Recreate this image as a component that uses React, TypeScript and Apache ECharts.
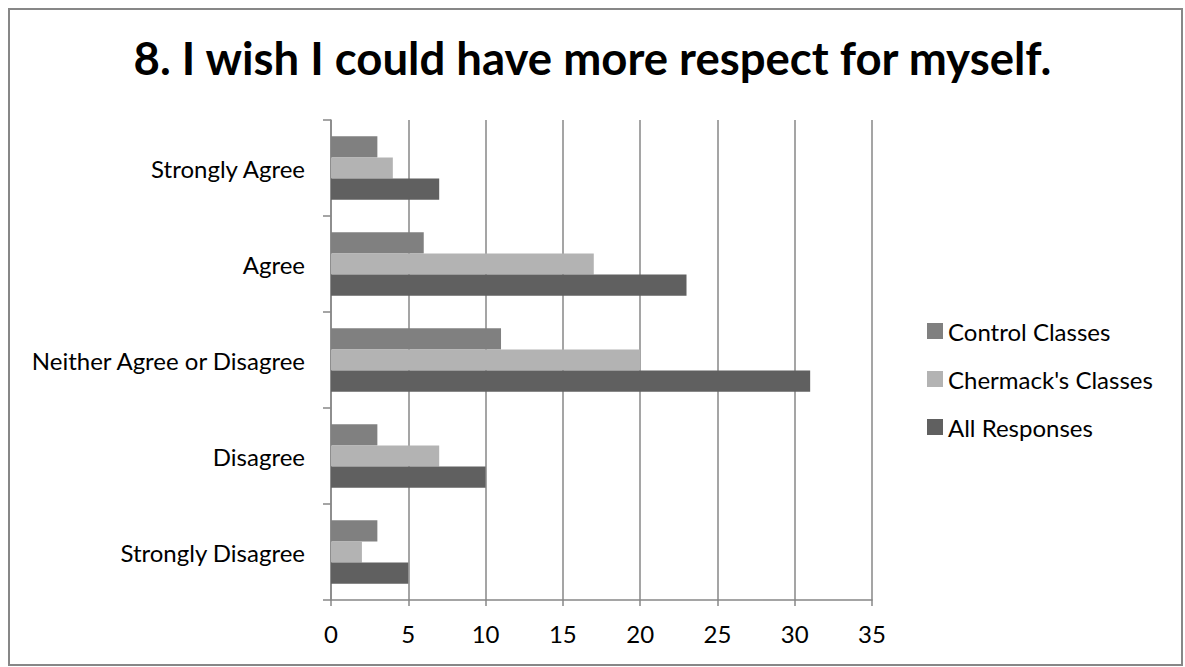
import React, { useEffect, useRef } from "react";
import * as echarts from "echarts";

const categories = [
  "Strongly Disagree",
  "Disagree",
  "Neither Agree or Disagree",
  "Agree",
  "Strongly Agree",
];
const controlClasses = [3, 3, 11, 6, 3];
const chermackClasses = [2, 7, 20, 17, 4];
const allResponses = [5, 10, 31, 23, 7];
const xTicks = [0, 5, 10, 15, 20, 25, 30, 35];

const FONT = "Lato, 'Open Sans', sans-serif";
const GRID_GRAY = "#878787";

export default function App() {
  const ref = useRef<HTMLDivElement>(null);

  useEffect(() => {
    if (!ref.current) return;
    const chart = echarts.init(ref.current, null, { renderer: "svg" });
    const barCommon = { type: "bar", barGap: "0%", barCategoryGap: "34%" };
    chart.setOption({
      animation: false,
      backgroundColor: "#ffffff",
      title: {
        text: "8. I wish I could have more respect for myself.",
        left: "center",
        top: 29,
        textStyle: {
          fontFamily: FONT,
          fontWeight: "bold",
          fontSize: 45.5,
          color: "#000000",
        },
      },
      graphic: [
        {
          type: "rect",
          shape: { x: 9, y: 9, width: 1173, height: 656 },
          style: { fill: "none", stroke: GRID_GRAY, lineWidth: 2 },
          silent: true,
        },
      ],
      legend: {
        orient: "vertical",
        left: 922,
        top: 314,
        itemWidth: 16,
        itemHeight: 16,
        itemGap: 24,
        icon: "rect",
        data: ["Control Classes", "Chermack's Classes", "All Responses"],
        textStyle: { fontFamily: FONT, fontSize: 24, color: "#000000" },
      },
      grid: { left: 331, top: 120, right: 313, bottom: 67, containLabel: false },
      xAxis: {
        type: "value",
        min: xTicks[0],
        max: xTicks[xTicks.length - 1],
        interval: xTicks[1] - xTicks[0],
        axisLine: { show: true, lineStyle: { color: GRID_GRAY, width: 1.5 } },
        axisTick: { show: true, length: 6, lineStyle: { color: GRID_GRAY, width: 1.5 } },
        splitLine: { show: true, lineStyle: { color: GRID_GRAY, width: 1.5 } },
        axisLabel: { fontFamily: FONT, fontSize: 24, color: "#000000", margin: 21 },
      },
      yAxis: {
        type: "category",
        data: categories,
        axisLine: { show: true, lineStyle: { color: GRID_GRAY, width: 1.5 } },
        axisTick: { show: true, length: 8, alignWithLabel: false, lineStyle: { color: GRID_GRAY, width: 1.5 } },
        axisLabel: { fontFamily: FONT, fontSize: 24, color: "#000000", margin: 26 },
      },
      series: [
        {
          ...barCommon,
          name: "Control Classes",
          data: controlClasses,
          itemStyle: { color: "#808080" },
        },
        {
          ...barCommon,
          name: "Chermack's Classes",
          data: chermackClasses,
          itemStyle: { color: "#b3b3b3" },
        },
        {
          ...barCommon,
          name: "All Responses",
          data: allResponses,
          itemStyle: { color: "#606060" },
        },
      ],
    });
    return () => chart.dispose();
  }, []);

  return (
    <div
      ref={ref}
      style={{ position: "fixed", left: 0, top: 0, width: 1185, height: 667 }}
    />
  );
}
